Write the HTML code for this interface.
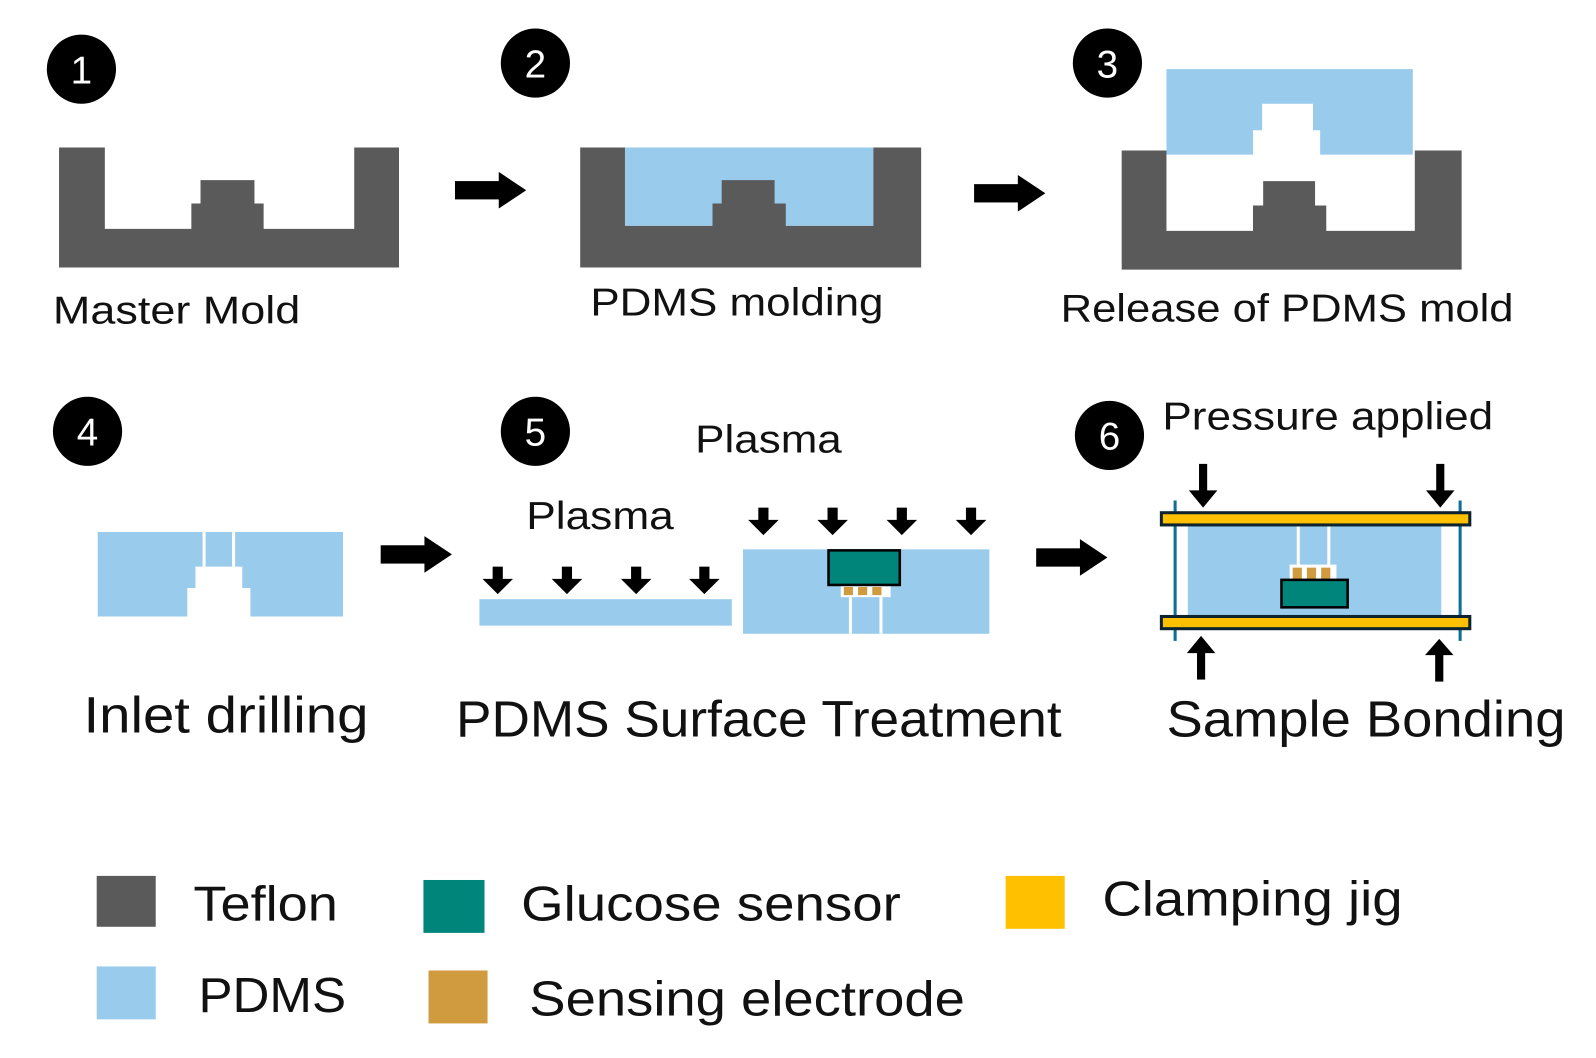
<!DOCTYPE html>
<html><head><meta charset="utf-8"><style>
html,body{margin:0;padding:0;background:#fff;}
svg{display:block;}
text{font-family:"Liberation Sans Narrow","Liberation Sans",sans-serif;fill:#111;}
</style></head><body>
<svg width="1596" height="1058" viewBox="0 0 1568 1040" preserveAspectRatio="none" xmlns="http://www.w3.org/2000/svg">
<defs>
<g id="arr"><rect x="0" y="-9" width="45" height="18" fill="#000"/><polygon points="43,-18 70,0 43,18" fill="#000"/></g>
<g id="sd"><rect x="-5" y="0" width="10" height="14" fill="#000"/><polygon points="-15,12 15,12 0,27" fill="#000"/></g>
</defs>
<rect width="1568" height="1040" fill="#fff"/>
<g font-size="38" text-anchor="middle">
<circle cx="80" cy="68" r="34" fill="#000"/><text x="80" y="82" style="fill:#fff">1</text>
<circle cx="526" cy="62" r="34" fill="#000"/><text x="526" y="76" style="fill:#fff">2</text>
<circle cx="1088" cy="62" r="34" fill="#000"/><text x="1088" y="76" style="fill:#fff">3</text>
<circle cx="86" cy="424" r="34" fill="#000"/><text x="86" y="438" style="fill:#fff">4</text>
<circle cx="526" cy="424" r="34" fill="#000"/><text x="526" y="438" style="fill:#fff">5</text>
<circle cx="1090" cy="428" r="34" fill="#000"/><text x="1090" y="442" style="fill:#fff">6</text>
</g>
<path d="M58 145H103V225H188V200H197V177H250V200H259V225H348V145H392V263H58Z" fill="#5a5a5a"/>
<text x="52" y="318" font-size="38" textLength="243" lengthAdjust="spacingAndGlyphs">Master Mold</text>
<use href="#arr" x="447" y="187"/>
<rect x="614" y="145" width="244" height="77" fill="#99cbec"/>
<path d="M570 145H614V222H700V200H709V177H761V200H772V222H858V145H905V263H570Z" fill="#5a5a5a"/>
<text x="580" y="310" font-size="38" textLength="288" lengthAdjust="spacingAndGlyphs">PDMS molding</text>
<use href="#arr" x="957" y="190"/>
<path d="M1146 68H1388V152H1297V128H1290V102H1240V128H1231V152H1146Z" fill="#99cbec"/>
<path d="M1102 148H1146V227H1231V202H1241V178H1292V202H1303V227H1390V148H1436V265H1102Z" fill="#5a5a5a"/>
<text x="1042" y="316" font-size="38" textLength="445" lengthAdjust="spacingAndGlyphs">Release of PDMS mold</text>
<path d="M96 523H337V606H246V578H238V557H192V578H184V606H96Z" fill="#99cbec"/>
<rect x="199" y="523" width="3" height="34" fill="#fff"/><rect x="228" y="523" width="3" height="34" fill="#fff"/>
<text x="82" y="720" font-size="50" textLength="280" lengthAdjust="spacingAndGlyphs">Inlet drilling</text>
<use href="#arr" x="374" y="545"/>
<text x="517" y="520" font-size="38" textLength="145" lengthAdjust="spacingAndGlyphs">Plasma</text>
<text x="683" y="445" font-size="38" textLength="144" lengthAdjust="spacingAndGlyphs">Plasma</text>
<rect x="471" y="589" width="248" height="26" fill="#99cbec"/>
<use href="#sd" x="489" y="557"/><use href="#sd" x="557" y="557"/><use href="#sd" x="625" y="557"/><use href="#sd" x="692" y="557"/>
<rect x="730" y="540" width="242" height="83" fill="#99cbec"/>
<use href="#sd" x="750" y="499"/><use href="#sd" x="818" y="499"/><use href="#sd" x="886" y="499"/><use href="#sd" x="954" y="499"/>
<rect x="826" y="575" width="49" height="12" fill="#fff"/>
<rect x="834" y="587" width="3" height="36" fill="#fff"/><rect x="864" y="587" width="3" height="36" fill="#fff"/>
<rect x="829" y="577" width="9" height="8" fill="#d09a3e"/><rect x="843" y="577" width="9" height="8" fill="#d09a3e"/><rect x="857" y="577" width="9" height="8" fill="#d09a3e"/>
<rect x="814" y="541" width="70" height="34" fill="#00857a" stroke="#000" stroke-width="2.5"/>
<text x="448" y="724" font-size="50" textLength="595" lengthAdjust="spacingAndGlyphs">PDMS Surface Treatment</text>
<use href="#arr" x="1018" y="548"/>
<text x="1142" y="422" font-size="38" textLength="325" lengthAdjust="spacingAndGlyphs">Pressure applied</text>
<rect x="1167" y="516" width="249" height="89" fill="#99cbec"/>
<rect x="1153" y="492" width="3" height="138" fill="#0e6f94"/><rect x="1433" y="492" width="3" height="138" fill="#0e6f94"/>
<rect x="1274" y="516" width="3" height="40" fill="#fff"/><rect x="1304" y="516" width="3" height="40" fill="#fff"/>
<rect x="1267" y="555" width="46" height="15" fill="#fff"/>
<rect x="1270" y="558" width="9" height="12" fill="#d09a3e"/><rect x="1284" y="558" width="9" height="12" fill="#d09a3e"/><rect x="1298" y="558" width="9" height="12" fill="#d09a3e"/>
<rect x="1259" y="570" width="65" height="27" fill="#00857a" stroke="#000" stroke-width="2.5"/>
<rect x="1141" y="504" width="303" height="12" fill="#ffc000" stroke="#0d2430" stroke-width="3"/>
<rect x="1141" y="606" width="303" height="12" fill="#ffc000" stroke="#0d2430" stroke-width="3"/>
<g fill="#000">
<rect x="1178" y="456" width="8" height="28"/><polygon points="1168,482 1196,482 1182,499"/>
<rect x="1411" y="456" width="8" height="28"/><polygon points="1401,482 1429,482 1415,499"/>
<rect x="1176" y="640" width="8" height="28"/><polygon points="1166,642 1194,642 1180,625"/>
<rect x="1410" y="642" width="8" height="28"/><polygon points="1400,644 1428,644 1414,628"/>
</g>
<text x="1146" y="724" font-size="50" textLength="392" lengthAdjust="spacingAndGlyphs">Sample Bonding</text>
<rect x="95" y="861" width="58" height="50" fill="#5a5a5a"/>
<rect x="416" y="865" width="60" height="52" fill="#00857a"/>
<rect x="988" y="861" width="58" height="52" fill="#ffc000"/>
<rect x="95" y="950" width="58" height="52" fill="#99cbec"/>
<rect x="421" y="954" width="58" height="52" fill="#d09a3e"/>
<g font-size="48">
<text x="190" y="905" textLength="142" lengthAdjust="spacingAndGlyphs">Teflon</text>
<text x="512" y="905" textLength="373" lengthAdjust="spacingAndGlyphs">Glucose sensor</text>
<text x="1083" y="900" textLength="295" lengthAdjust="spacingAndGlyphs">Clamping jig</text>
<text x="195" y="995" textLength="145" lengthAdjust="spacingAndGlyphs">PDMS</text>
<text x="520" y="998" textLength="428" lengthAdjust="spacingAndGlyphs">Sensing electrode</text>
</g>
</svg>
</body></html>
